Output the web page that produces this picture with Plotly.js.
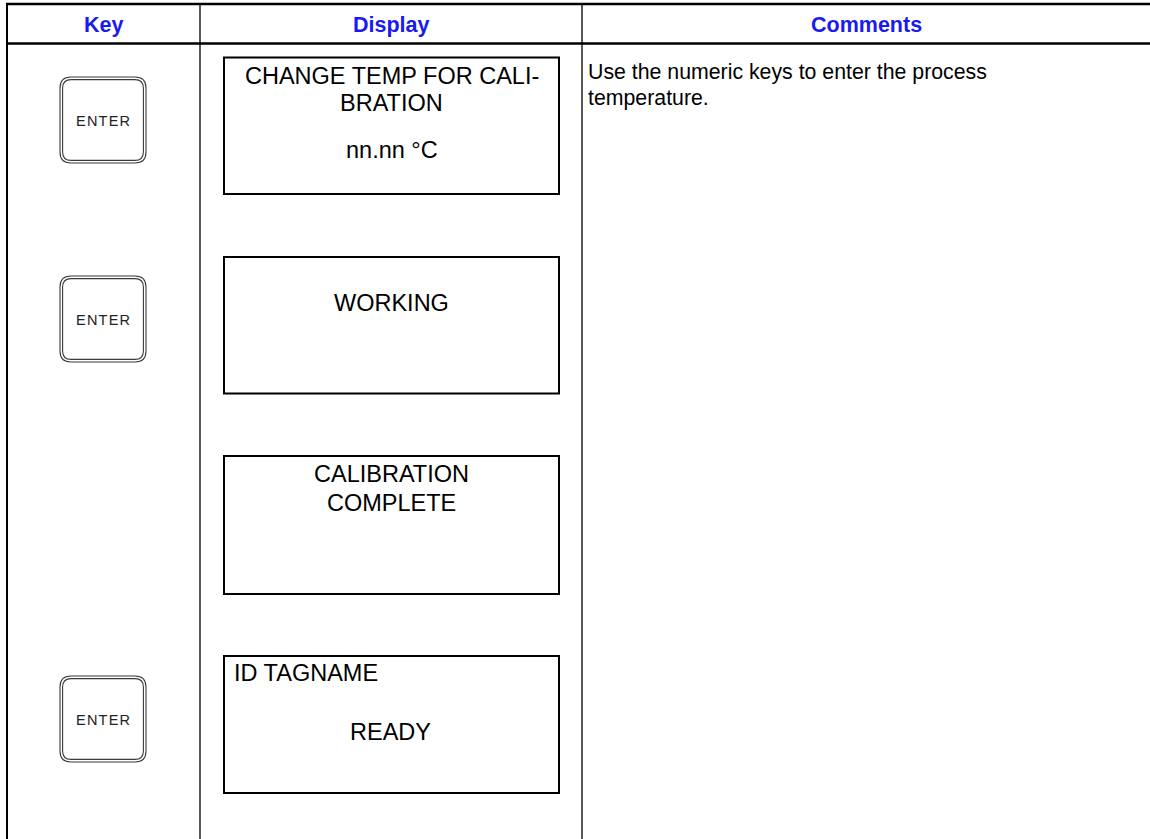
<!DOCTYPE html>
<html>
<head>
<meta charset="utf-8">
<script src="https://cdn.plot.ly/plotly-3.0.1.min.js"></script>
<style>
html,body{margin:0;padding:0;background:#fff;}
#chart{width:1150px;height:839px;}
</style>
</head>
<body>
<div id="chart"></div>
<script>
// ---- content ----
const headers = ["Key", "Display", "Comments"];
const keyLabels = ["ENTER", "ENTER", "ENTER"];
const displayLines = [
  ["CHANGE TEMP FOR CALI-", "BRATION", "nn.nn °C"],
  ["WORKING"],
  ["CALIBRATION", "COMPLETE"],
  ["ID TAGNAME", "READY"]
];
const commentLines = ["Use the numeric keys to enter the process", "temperature."];

// ---- layout geometry ----
const W = 1150, H = 839;
const colX = [7, 200, 582, W];
const headerY = [4, 43.5];
const boxX = [224, 559];
const boxY = [[57.5, 194], [257, 393.5], [456, 594], [656, 793]];
const keyX = [60, 146];
const keyRows = [0, 1, 3];
const keyY = [[77, 163], [276, 362], [676, 762]];
// text baseline positions inside each display box (relative y)
const lineYs = [[75.5, 103.2, 149.5], [303.2], [474.2, 502.5], [672.5, 731.5]];
const lineAlign = [["c", "c", "c"], ["c"], ["c", "c"], ["l", "c"]];

const FONT = "Liberation Sans, Arial, Helvetica, sans-serif";
const shapes = [];
const annotations = [];

function line(x0, y0, x1, y1, w, c) {
  shapes.push({type: "line", xref: "x", yref: "y", x0, y0, x1, y1,
    line: {color: c || "#000", width: w}});
}
function rr(x0, y0, x1, y1, r) {
  return `M${x0 + r},${y0} L${x1 - r},${y0} Q${x1},${y0} ${x1},${y0 + r} ` +
         `L${x1},${y1 - r} Q${x1},${y1} ${x1 - r},${y1} L${x0 + r},${y1} ` +
         `Q${x0},${y1} ${x0},${y1 - r} L${x0},${y0 + r} Q${x0},${y0} ${x0 + r},${y0} Z`;
}

// table grid
line(6, headerY[0], W, headerY[0], 2.5);
line(6, headerY[1], W, headerY[1], 2.5);
line(colX[0], 3, colX[0], H, 2);
line(colX[1], headerY[0], colX[1], H, 1.3);
line(colX[2], headerY[0], colX[2], H, 1.3);

// headers
headers.forEach((h, i) => {
  annotations.push({xref: "x", yref: "y", x: (colX[i] + colX[i + 1]) / 2, y: 25.3,
    text: "<b>" + h + "</b>", showarrow: false, xanchor: "center", yanchor: "middle",
    font: {family: FONT, size: 21.5, color: "#1a1af0"}});
});

// display boxes
boxY.forEach((yy, i) => {
  shapes.push({type: "rect", xref: "x", yref: "y", x0: boxX[0], x1: boxX[1], y0: yy[0], y1: yy[1],
    line: {color: "#000", width: 2}});
  displayLines[i].forEach((t, j) => {
    const left = lineAlign[i][j] === "l";
    annotations.push({xref: "x", yref: "y",
      x: left ? boxX[0] + 8 : (i === 3 ? 390 : (boxX[0] + boxX[1]) / 2),
      y: lineYs[i][j], text: t, showarrow: false,
      xanchor: left ? "left" : "center", yanchor: "middle",
      font: {family: FONT, size: 23.5, color: "#000"}});
  });
});

// keys
keyY.forEach((yy, i) => {
  shapes.push({type: "path", xref: "x", yref: "y", path: rr(keyX[0], yy[0], keyX[1], yy[1], 11),
    line: {color: "#3a3a3a", width: 1.1}});
  shapes.push({type: "path", xref: "x", yref: "y", path: rr(keyX[0] + 2.6, yy[0] + 2.6, keyX[1] - 2.6, yy[1] - 2.6, 8.5),
    line: {color: "#3a3a3a", width: 1.1}});
  annotations.push({xref: "x", yref: "y", x: (keyX[0] + keyX[1]) / 2, y: (yy[0] + yy[1]) / 2 + 0.5,
    text: keyLabels[i].split("").join("\u200a"), showarrow: false, xanchor: "center", yanchor: "middle",
    font: {family: FONT, size: 14.5, color: "#222"}});
});

// comments
const commentYs = [72, 98];
commentLines.forEach((t, j) => {
  annotations.push({xref: "x", yref: "y", x: 586, y: commentYs[j], text: t, showarrow: false,
    xanchor: "left", yanchor: "middle", font: {family: FONT, size: 21.3, color: "#000"}});
});

Plotly.newPlot("chart", [], {
  width: W, height: H,
  margin: {l: 0, r: 0, t: 0, b: 0},
  paper_bgcolor: "#fff", plot_bgcolor: "#fff",
  xaxis: {range: [0, W], visible: false, fixedrange: true},
  yaxis: {range: [H, 0], visible: false, fixedrange: true},
  showlegend: false,
  shapes, annotations
}, {displayModeBar: false, staticPlot: true});
</script>
</body>
</html>
